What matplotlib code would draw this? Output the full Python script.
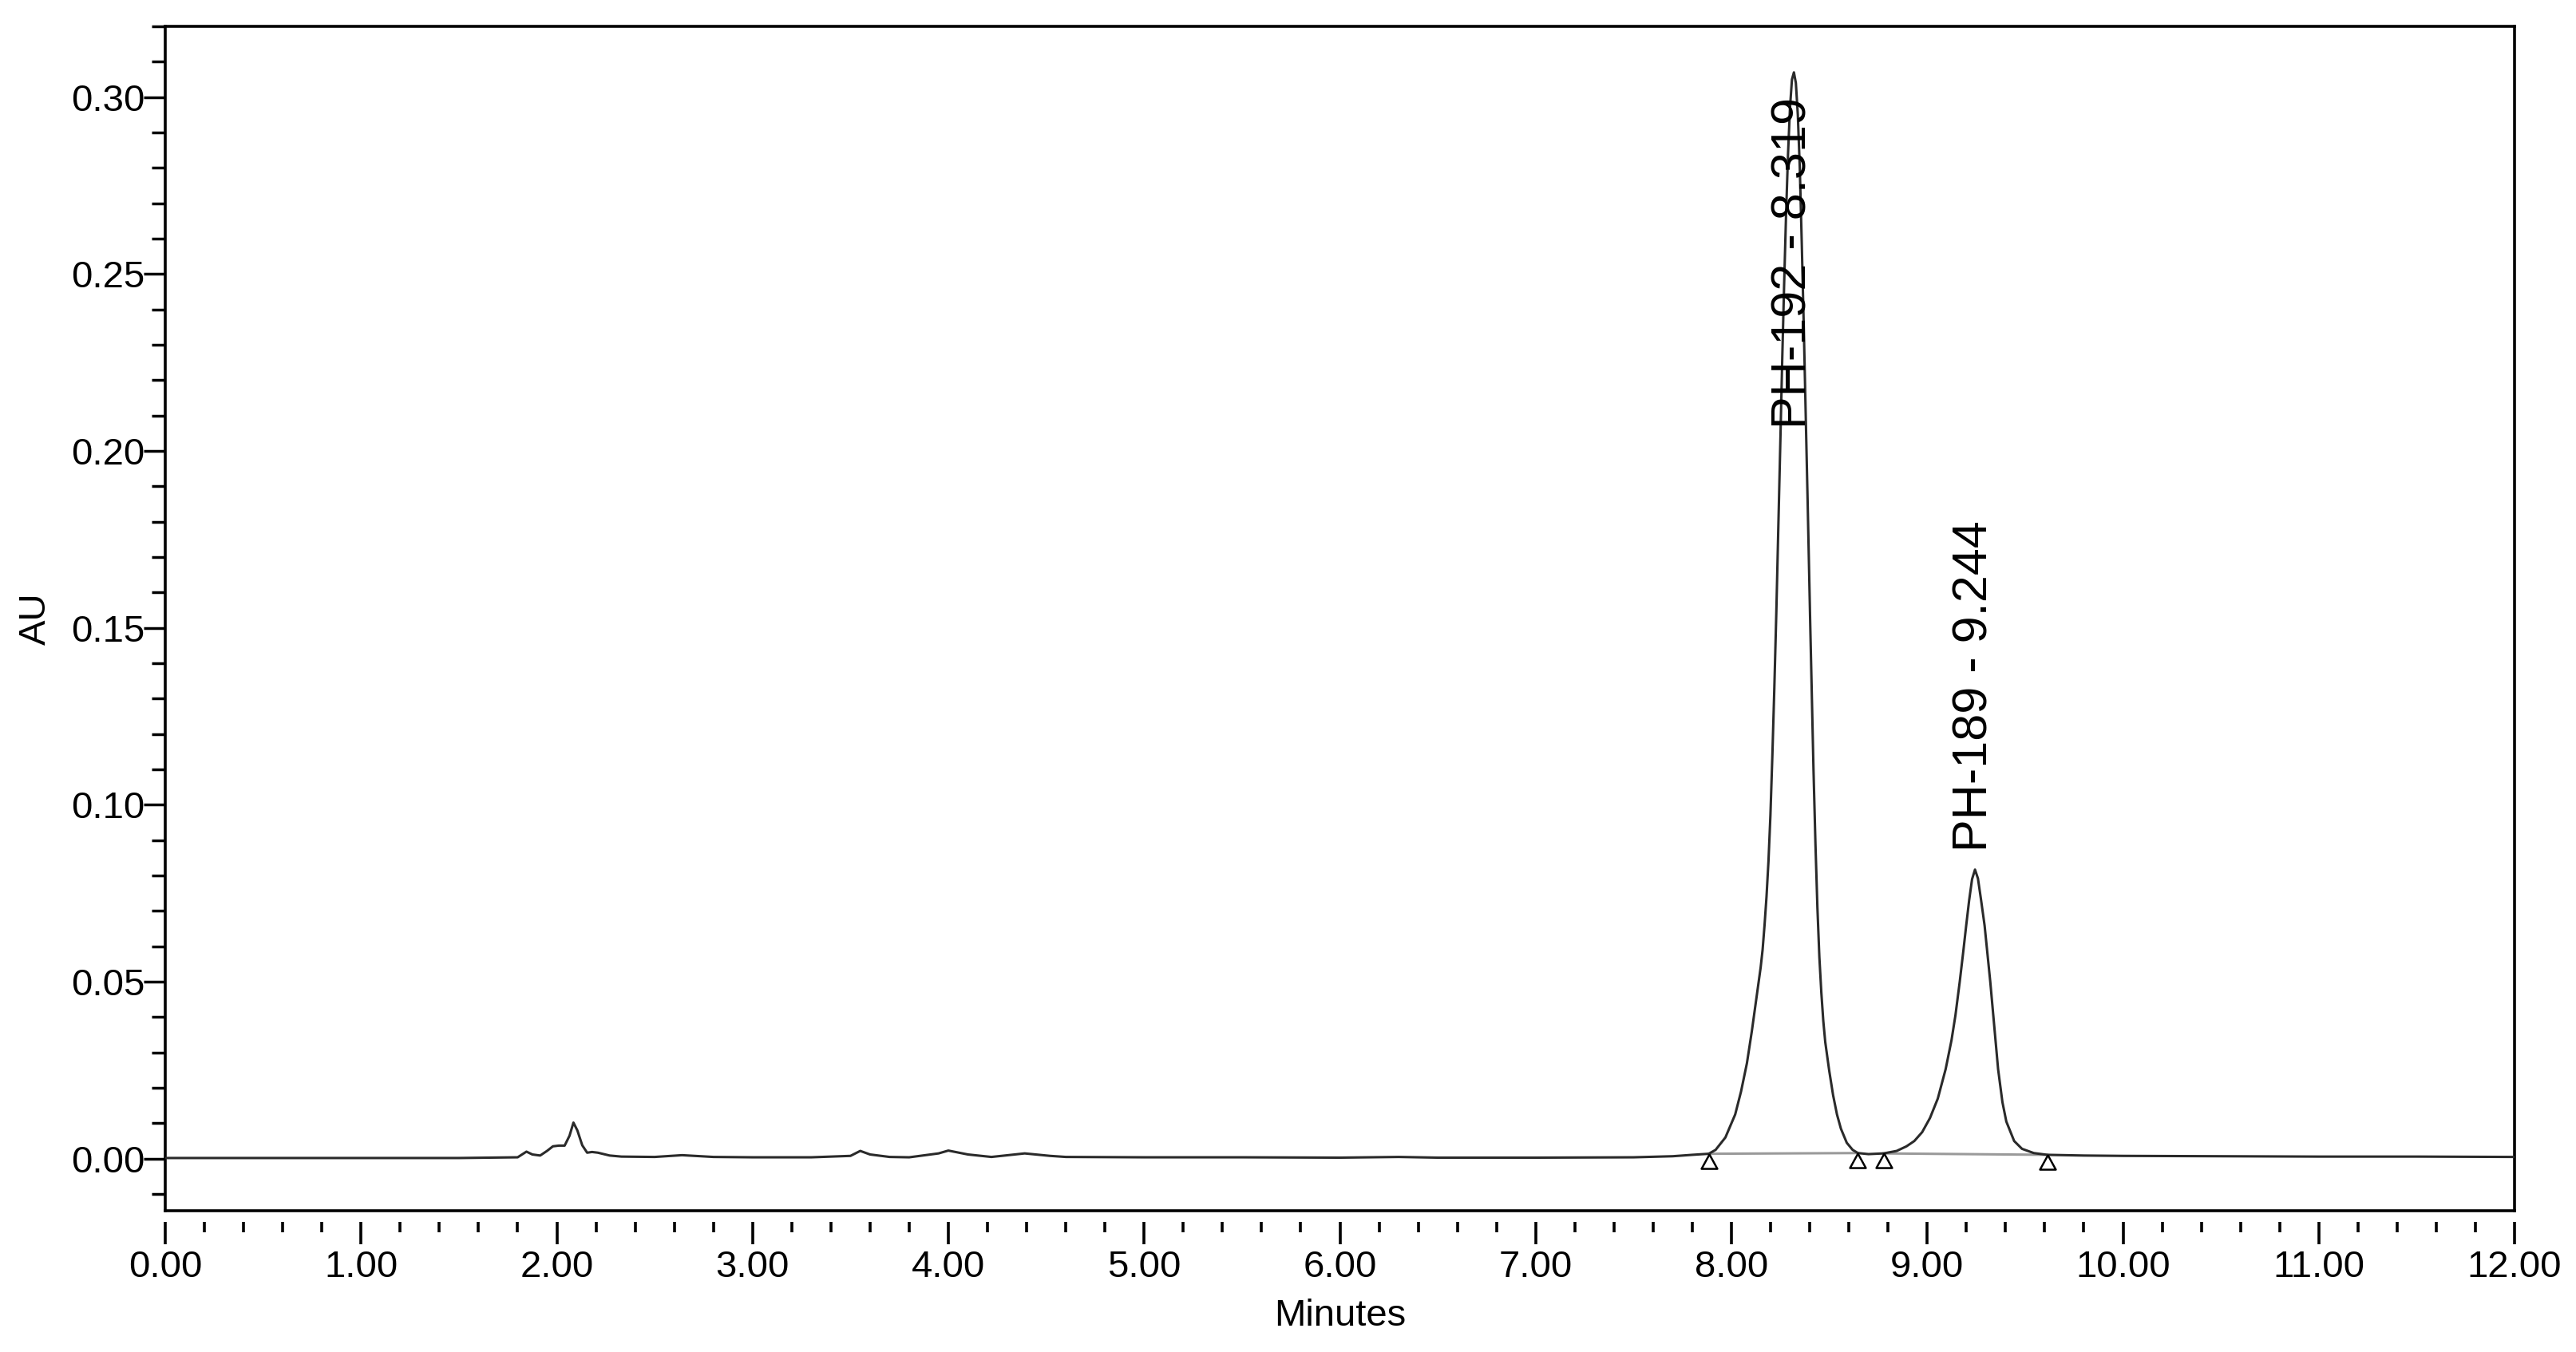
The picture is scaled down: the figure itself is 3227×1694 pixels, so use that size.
import numpy as np
import matplotlib
matplotlib.use('Agg')
import matplotlib.pyplot as plt
from matplotlib.ticker import MultipleLocator, FormatStrFormatter

# chromatogram trace (minutes, AU)
time_min = [0.00, 0.50, 1.00, 1.50, 1.80, 1.845, 1.875, 1.915, 1.95, 1.98, 2.01, 2.04,
            2.065, 2.085, 2.105, 2.13, 2.155, 2.18, 2.21, 2.27, 2.33, 2.50, 2.64, 2.80,
            3.00, 3.30, 3.50, 3.55, 3.60, 3.70, 3.80, 3.95, 4.00, 4.10, 4.22, 4.39, 4.52,
            4.60, 5.00, 5.50, 6.00, 6.30, 6.50, 7.00, 7.50, 7.70, 7.80, 7.884,
            # PH-192
            7.919, 7.969, 8.019, 8.049, 8.079, 8.104, 8.129, 8.139, 8.149, 8.159, 8.169,
            8.179, 8.189, 8.199, 8.209, 8.219, 8.229, 8.239, 8.249, 8.259, 8.269, 8.279,
            8.289, 8.299, 8.309, 8.319, 8.329, 8.339, 8.349, 8.359, 8.369, 8.379, 8.389,
            8.402, 8.411, 8.419, 8.429, 8.439, 8.449, 8.459, 8.469, 8.479, 8.489, 8.499,
            8.519, 8.539, 8.559, 8.589, 8.619, 8.646,
            8.70, 8.777,
            # PH-189
            8.844, 8.894, 8.934, 8.974, 9.014, 9.054, 9.094, 9.124, 9.144, 9.166, 9.184,
            9.199, 9.214, 9.229, 9.244, 9.259, 9.274, 9.293, 9.309, 9.322, 9.339, 9.362,
            9.384, 9.404, 9.444, 9.484, 9.544, 9.613,
            9.80, 10.00, 10.50, 11.00, 11.50, 12.00]
absorbance = [0.0002, 0.0002, 0.0002, 0.0002, 0.0004, 0.0020, 0.0012, 0.0009, 0.0022, 0.0035,
              0.0037, 0.0037, 0.0065, 0.0102, 0.0080, 0.0038, 0.0017, 0.0019, 0.0017, 0.0009,
              0.0006, 0.0005, 0.0010, 0.0005, 0.0004, 0.0004, 0.0008, 0.0022, 0.0012, 0.0005,
              0.0004, 0.0015, 0.0023, 0.0012, 0.0005, 0.0015, 0.0008, 0.0005, 0.0004, 0.0004,
              0.0003, 0.0005, 0.0003, 0.0003, 0.0004, 0.0007, 0.0011, 0.0014,
              0.0025, 0.0060, 0.0125, 0.019, 0.027, 0.036, 0.046, 0.050, 0.054, 0.059, 0.066,
              0.074, 0.084, 0.097, 0.114, 0.133, 0.154, 0.177, 0.201, 0.225, 0.247, 0.267,
              0.284, 0.297, 0.305, 0.307, 0.304, 0.295, 0.280, 0.259, 0.236, 0.211, 0.186,
              0.152, 0.130, 0.110, 0.089, 0.071, 0.057, 0.047, 0.039, 0.033, 0.029, 0.025,
              0.018, 0.0125, 0.0085, 0.0045, 0.0025, 0.0016,
              0.0013, 0.0015,
              0.0022, 0.0035, 0.0050, 0.0075, 0.0115, 0.0170, 0.0253, 0.0335, 0.0405, 0.0500,
              0.0585, 0.0659, 0.0730, 0.0790, 0.0817, 0.0792, 0.0735, 0.0659, 0.0570, 0.0500,
              0.0395, 0.0253, 0.0160, 0.0105, 0.0050, 0.0028, 0.0016, 0.0011,
              0.0009, 0.0008, 0.0007, 0.0006, 0.0006, 0.0005]

# integration start/end points
peak_names = ['PH-192', 'PH-189']
peak_rt = [8.319, 9.244]
peak_start = [7.884, 8.777]
peak_end = [8.646, 9.613]
start_au = [0.0014, 0.0015]
end_au = [0.0016, 0.0011]

txt_font = ['Liberation Sans', 'DejaVu Sans']

fig = plt.figure(figsize=(32.27, 16.94), dpi=100)
ax = fig.add_axes([0.06415, 0.10449, 0.9120, 0.8760])

# baselines under the peaks
for i in range(len(peak_names)):
    ax.plot([peak_start[i], peak_end[i]], [start_au[i], end_au[i]], color='#9a9a9a', lw=2.2, zorder=2)

ax.plot(time_min, absorbance, color='#2a2a2a', lw=2.2, zorder=3)

# open triangles marking peak start / end
tri = [(0, 0), (-0.55, -1), (0.55, -1), (0, 0)]
ax.plot(peak_start + peak_end, start_au + end_au, linestyle='none', marker=tri,
        markersize=26, markerfacecolor='white', markeredgecolor='black',
        markeredgewidth=1.8, zorder=4, clip_on=False)

# peak labels
label_bottom = [0.2063, 0.0867]
for i in range(len(peak_names)):
    ax.text(peak_rt[i], label_bottom[i], '%s - %.3f' % (peak_names[i], peak_rt[i]),
            rotation=90, ha='center', va='bottom', fontsize=44, family=txt_font, zorder=5)

ax.set_xlim(0, 12)
ax.set_ylim(-0.0147, 0.32)

ax.xaxis.set_major_locator(MultipleLocator(1.0))
ax.xaxis.set_minor_locator(MultipleLocator(0.2))
ax.yaxis.set_major_locator(MultipleLocator(0.05))
ax.yaxis.set_minor_locator(MultipleLocator(0.01))
ax.xaxis.set_major_formatter(FormatStrFormatter('%.2f'))
ax.yaxis.set_major_formatter(FormatStrFormatter('%.2f'))

for s in ['top', 'left', 'right']:
    ax.spines[s].set_linewidth(2.6)
ax.spines['bottom'].set_position(('outward', 10))
ax.spines['bottom'].set_visible(False)
ax.plot([0, 1], [0, 0], transform=ax.transAxes, color='black', lw=2.6,
        clip_on=False, solid_capstyle='projecting', zorder=6)

ax.tick_params(axis='y', which='major', direction='out', length=19.5, width=2.5, pad=-1)
ax.tick_params(axis='y', which='minor', direction='out', length=12.2, width=2.5)
ax.tick_params(axis='x', which='major', direction='out', length=20, width=2.6, pad=5)
ax.tick_params(axis='x', which='minor', direction='out', length=9.4, width=2.6)
for lab in ax.get_xticklabels() + ax.get_yticklabels():
    lab.set_family(txt_font)
    lab.set_fontsize(34)

ax.set_xlabel('Minutes', fontsize=34, family=txt_font, va='center')
ax.set_ylabel('AU', fontsize=34, family=txt_font, va='center')
ax.xaxis.set_label_coords(0.5, -0.089)
ax.yaxis.set_label_coords(-0.055, 0.5)

fig.savefig('out.png', dpi=100)
